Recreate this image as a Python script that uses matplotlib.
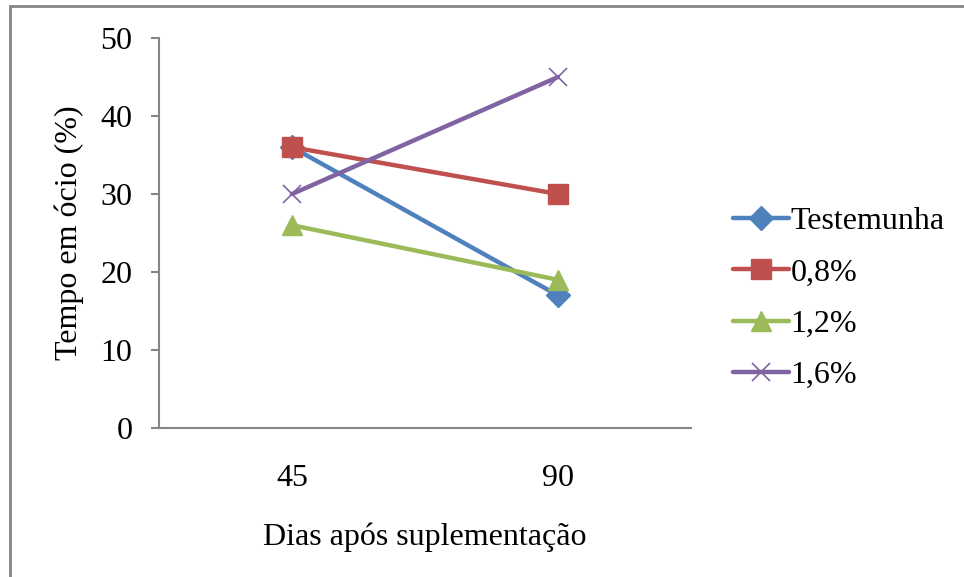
import matplotlib.pyplot as plt
from matplotlib.patches import Rectangle

plt.rcParams['font.family'] = ['Liberation Serif', 'DejaVu Serif']

dias = ["45", "90"]
series = ["Testemunha", "0,8%", "1,2%", "1,6%"]
testemunha = [36, 17]
p08 = [36, 30]
p12 = [26, 19]
p16 = [30, 45]

colors = ["#4F81BD", "#C0504D", "#9BBB59", "#8064A2"]
markers = [("D", 12, 0), ("s", 14, 0), ("^", 15, 0), ("x", 13, 1.2)]
FS = 23

fig = plt.figure(figsize=(9.64, 5.77), dpi=100)
ax = fig.add_axes([159 / 964, 1 - 428 / 577, 532 / 964, 390 / 577])

x = list(range(len(dias)))
for name, vals, c, (m, ms, mew) in zip(series, [testemunha, p08, p12, p16], colors, markers):
    if m == "x":
        ax.plot(x, vals, color=c, lw=3.2, marker=m, ms=ms, mew=mew, label=name,
                solid_capstyle="round")
    else:
        ax.plot(x, vals, color=c, lw=3.2, marker=m, ms=ms, mec=c, mfc=c, label=name,
                solid_capstyle="round")

ax.set_xlim(-0.5, 1.5)
ax.set_ylim(0, 50)
ax.set_xticks(x)
ax.set_xticklabels(dias)
ax.set_yticks(range(0, 51, 10))
ax.tick_params(axis="x", length=0, labelsize=FS, pad=26)
ax.tick_params(axis="y", length=6, width=1.5, color="#868686", labelsize=FS, pad=13)
for s in ["top", "right"]:
    ax.spines[s].set_visible(False)
for s in ["left", "bottom"]:
    ax.spines[s].set_color("#868686")
    ax.spines[s].set_linewidth(1.5)

ax.set_xlabel("Dias após suplementação", fontsize=FS, labelpad=21)
ax.set_ylabel("Tempo em ócio (%)", fontsize=FS, labelpad=12)

ax.legend(loc="center left", bbox_to_anchor=(1.025, 0.332), frameon=False,
          fontsize=FS, handlelength=1.75, handletextpad=0.05, labelspacing=0.69)

# outer chart border
fig.patches.append(Rectangle((10 / 964, -0.1), 1.2, 1 - 6 / 577 + 0.1,
                             transform=fig.transFigure, fill=False,
                             edgecolor="#868686", lw=2))

fig.savefig("out.png", dpi=100)
